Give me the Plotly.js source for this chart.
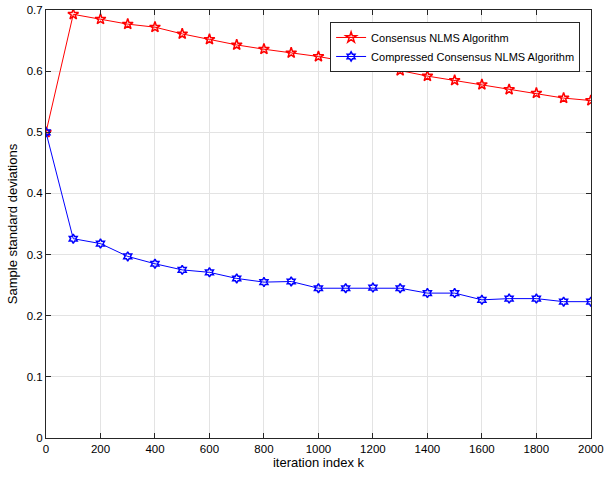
<!DOCTYPE html>
<html>
<head>
<meta charset="utf-8">
<script src="https://cdn.plot.ly/plotly-3.0.1.min.js"></script>
<style>html,body{margin:0;padding:0;background:#fff;}#chart{width:604px;height:477px;}</style>
</head>
<body>
<div id="chart"></div>
<script>
const iterations = [0,100,200,300,400,500,600,700,800,900,1000,1100,1200,1300,1400,1500,1600,1700,1800,1900,2000];
const consensusNLMS = [0.5,0.693,0.685,0.677,0.672,0.661,0.652,0.643,0.636,0.630,0.624,0.616,0.609,0.601,0.592,0.585,0.578,0.570,0.564,0.556,0.552];
const compressedNLMS = [0.5,0.326,0.318,0.297,0.285,0.275,0.271,0.261,0.255,0.256,0.245,0.245,0.246,0.245,0.237,0.237,0.226,0.228,0.228,0.223,0.223];
const seriesNames = ["Consensus NLMS Algorithm","Compressed Consensus NLMS Algorithm"];
const xTicks = [0,200,400,600,800,1000,1200,1400,1600,1800,2000];
const yTicks = [0,0.1,0.2,0.3,0.4,0.5,0.6,0.7];

const font = "Liberation Sans, Arial, Helvetica, sans-serif";
const traces = [
  {x: iterations, y: consensusNLMS, name: seriesNames[0], type: "scatter", mode: "lines+markers",
   line: {color: "#ff0000", width: 1},
   marker: {symbol: "star-open", size: 8, color: "#ff0000", line: {width: 1.5, color: "#ff0000"}}},
  {x: iterations, y: compressedNLMS, name: seriesNames[1], type: "scatter", mode: "lines+markers",
   line: {color: "#0000ff", width: 1},
   marker: {symbol: "hexagram-open", size: 7, color: "#0000ff", line: {width: 1.5, color: "#0000ff"}}}
];
const axisCommon = {
  showline: true, mirror: "ticks", linecolor: "#262626", linewidth: 1,
  ticks: "inside", ticklen: 5, tickcolor: "#262626",
  showgrid: true, gridcolor: "#e3e3e3", gridwidth: 1, zeroline: false,
  tickfont: {family: font, size: 11.5, color: "#000"}
};
const layout = {
  width: 604, height: 477,
  margin: {l: 46, r: 13, t: 10, b: 39},
  paper_bgcolor: "#fff", plot_bgcolor: "#fff",
  font: {family: font, color: "#000"},
  showlegend: true,
  legend: {x: 0.98, y: 0.972, xanchor: "right", yanchor: "top",
    bgcolor: "#fff", bordercolor: "#262626", borderwidth: 1,
    font: {family: font, size: 11, color: "#000"}, tracegroupgap: 0, itemwidth: 30},
  xaxis: Object.assign({}, axisCommon, {range: [0, 2000.5], tickvals: xTicks,
    ticklabeloverflow: "allow",
    title: {text: "iteration index k", font: {family: font, size: 13}, standoff: 4}}),
  yaxis: Object.assign({}, axisCommon, {range: [0, 0.7001], tickvals: yTicks,
    ticktext: yTicks.map(v => v === 0 ? "0" : String(v)),
    title: {text: "Sample standard deviations", font: {family: font, size: 13}, standoff: 6}})
};
Plotly.newPlot("chart", traces, layout, {displayModeBar: false, staticPlot: true});
</script>
</body>
</html>
